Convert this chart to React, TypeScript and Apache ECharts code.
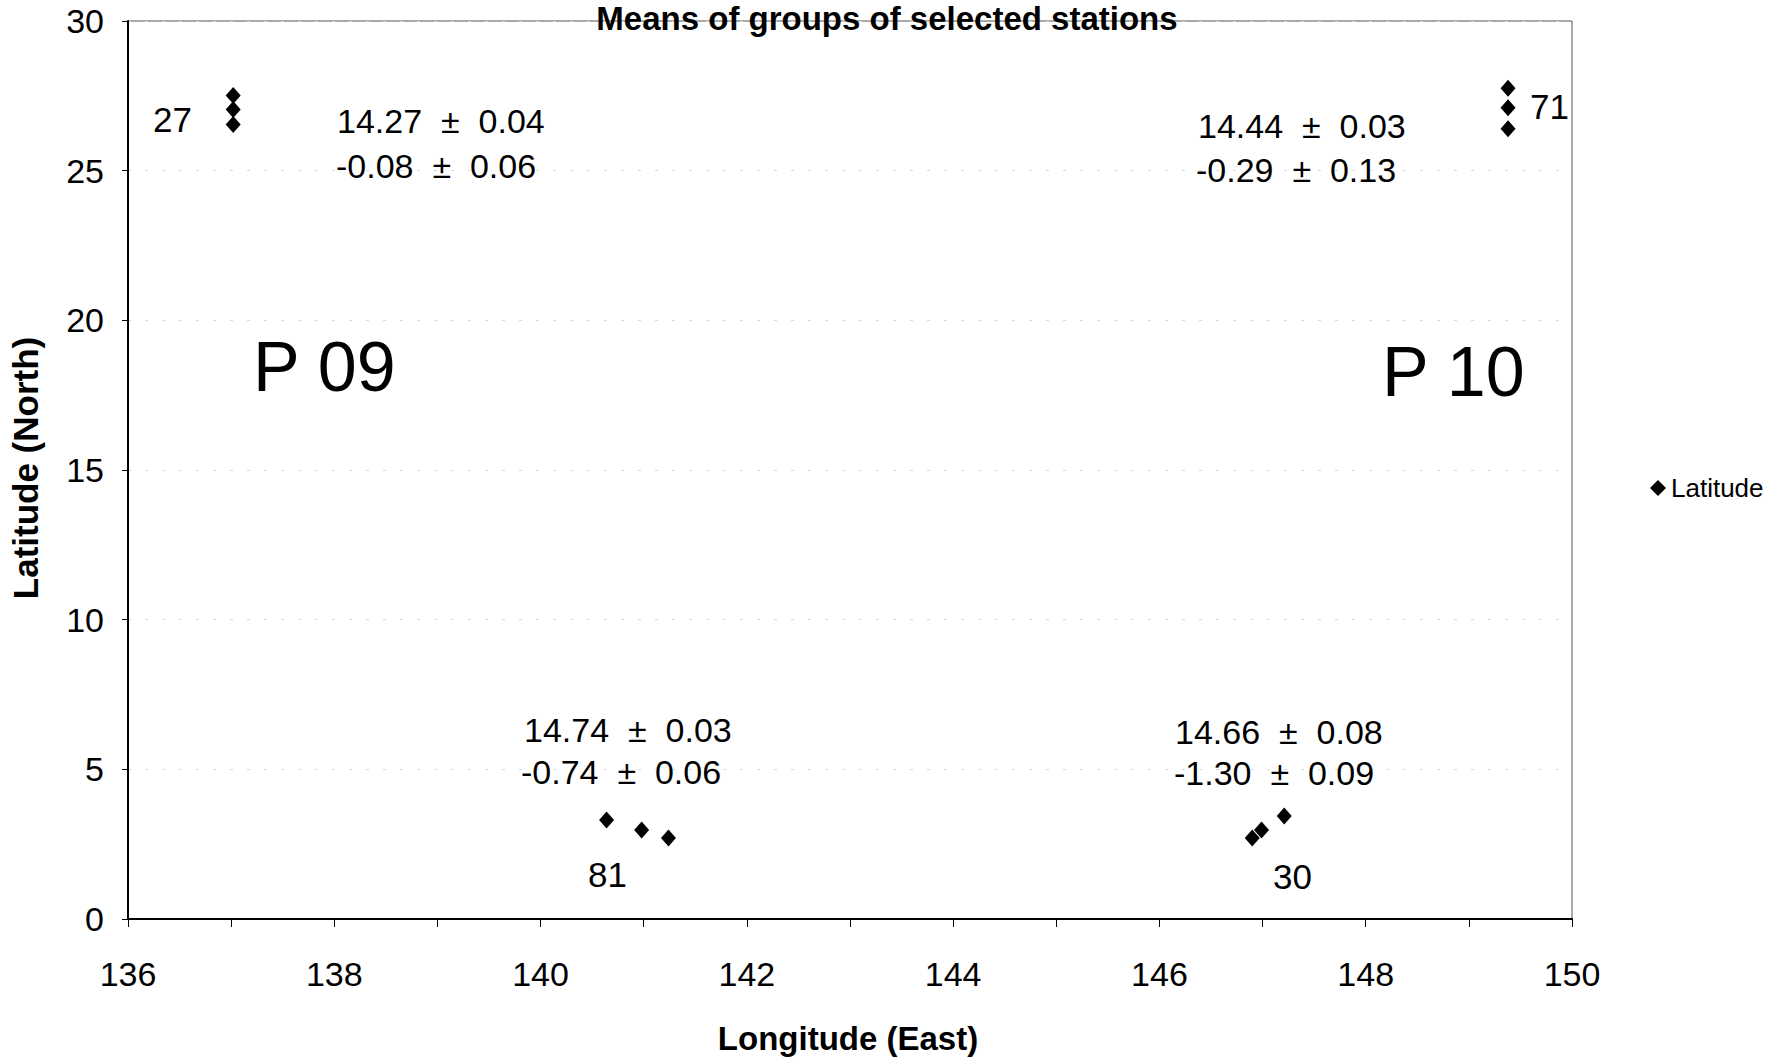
import React, { useEffect, useRef } from "react";
import * as echarts from "echarts";

// ---------------- data ----------------
const seriesName = "Latitude";
const longitudes = [137.02, 137.02, 137.02, 149.38, 149.38, 149.38, 140.64, 140.98, 141.24, 146.9, 146.99, 147.21];
const latitudes = [27.51, 27.04, 26.54, 27.75, 27.1, 26.4, 3.31, 2.97, 2.71, 2.71, 2.97, 3.44];

const xTickValues = [136, 138, 140, 142, 144, 146, 148, 150];
const yTickValues = [0, 5, 10, 15, 20, 25, 30];

const chartTitle = "Means of groups of selected stations";
const xAxisTitle = "Longitude (East)";
const yAxisTitle = "Latitude (North)";

const stationCounts = ["27", "71", "81", "30"];
const meanTemps = ["14.27  ±  0.04", "14.44  ±  0.03", "14.74  ±  0.03", "14.66  ±  0.08"];
const meanDiffs = ["-0.08  ±  0.06", "-0.29  ±  0.13", "-0.74  ±  0.06", "-1.30  ±  0.09"];
const sectionLabels = ["P 09", "P 10"];

// ---------------- layout (pixels) ----------------
const countPos = [
  [153, 119],
  [1530, 106],
  [588, 874],
  [1273, 876],
];
const tempPos = [
  [337, 121],
  [1198, 126],
  [524, 730],
  [1175, 732],
];
const diffPos = [
  [336, 166],
  [1196, 170],
  [521, 772],
  [1174, 773],
];
const sectionPos = [
  [253, 367],
  [1382, 372],
];

const FONT = "'Liberation Sans', Arial, Helvetica, sans-serif";

export default function App() {
  const ref = useRef<HTMLDivElement>(null);

  useEffect(() => {
    if (!ref.current) return;
    const chart = echarts.init(ref.current, undefined, { renderer: "svg" });

    const data = longitudes.map((lon, i) => [lon, latitudes[i]]);

    const graphics: any[] = [];
    const txt = (text: string, x: number, y: number, size: number, opts: any = {}) => ({
      type: "text",
      x,
      y,
      rotation: opts.rotation || 0,
      style: {
        text,
        fill: "#000",
        font: `${opts.bold ? "bold " : ""}${size}px ${FONT}`,
        textAlign: opts.align || "left",
        textVerticalAlign: "middle",
      },
      z: 100,
    });

    graphics.push(txt(chartTitle, 887, 18, 33, { bold: true, align: "center" }));
    graphics.push(txt(xAxisTitle, 848, 1038, 33, { bold: true, align: "center" }));
    graphics.push(txt(yAxisTitle, 25, 468, 35, { bold: true, align: "center", rotation: Math.PI / 2 }));
    stationCounts.forEach((t, i) => graphics.push(txt(t, countPos[i][0], countPos[i][1], 35)));
    meanTemps.forEach((t, i) => graphics.push(txt(t, tempPos[i][0], tempPos[i][1], 34)));
    meanDiffs.forEach((t, i) => graphics.push(txt(t, diffPos[i][0], diffPos[i][1], 34)));
    sectionLabels.forEach((t, i) => graphics.push(txt(t, sectionPos[i][0], sectionPos[i][1], 70)));

    const labelStyle = { color: "#000", fontFamily: FONT, fontSize: 34 };

    chart.setOption({
      animation: false,
      backgroundColor: "#fff",
      grid: {
        left: 128,
        right: 213,
        top: 21,
        bottom: 140,
        show: true,
        borderColor: "#555",
        borderWidth: 1,
        backgroundColor: "transparent",
      },
      legend: {
        show: true,
        data: [seriesName],
        left: 1645,
        top: 470,
        orient: "vertical",
        icon: "diamond",
        itemWidth: 16,
        itemHeight: 16,
        itemStyle: { color: "#000", opacity: 1 },
        textStyle: { color: "#000", fontFamily: FONT, fontSize: 26 },
      },
      xAxis: {
        type: "value",
        min: xTickValues[0],
        max: xTickValues[xTickValues.length - 1],
        interval: xTickValues[1] - xTickValues[0],
        axisLine: { show: true, onZero: false, lineStyle: { color: "#000", width: 2 } },
        axisTick: { show: true, length: 8, lineStyle: { color: "#000", width: 1 } },
        minorTick: { show: true, splitNumber: 2, length: 8, lineStyle: { color: "#000", width: 1 } },
        splitLine: { show: false },
        axisLabel: { ...labelStyle, margin: 38 },
      },
      yAxis: {
        type: "value",
        min: yTickValues[0],
        max: yTickValues[yTickValues.length - 1],
        interval: yTickValues[1] - yTickValues[0],
        axisLine: { show: true, onZero: false, lineStyle: { color: "#000", width: 2 } },
        axisTick: { show: true, length: 6, lineStyle: { color: "#000", width: 1 } },
        splitLine: { show: true, lineStyle: { color: "#d8d8d8", width: 1, type: [3, 14] } },
        axisLabel: { ...labelStyle, margin: 24 },
      },
      series: [
        {
          name: seriesName,
          type: "scatter",
          data,
          symbol: "diamond",
          symbolSize: [15, 17],
          itemStyle: { color: "#000", opacity: 1 },
        },
      ],
      graphic: graphics,
    });

    return () => chart.dispose();
  }, []);

  return (
    <div
      ref={ref}
      style={{ position: "fixed", left: 0, top: 0, width: 1785, height: 1059, background: "#fff" }}
    />
  );
}
